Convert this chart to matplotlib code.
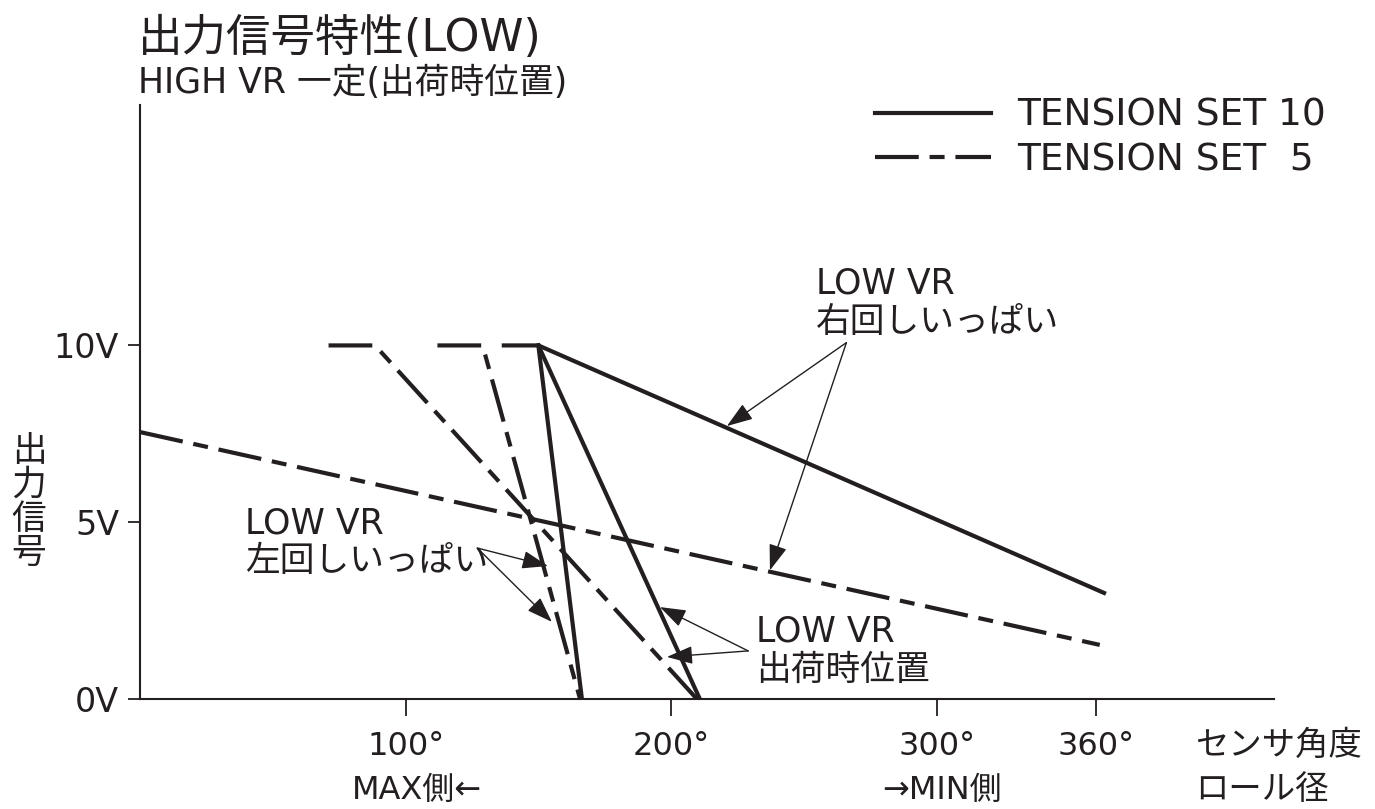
import numpy as np
import matplotlib
matplotlib.use("Agg")
import matplotlib.pyplot as plt

plt.rcParams["font.family"] = ["DejaVu Sans", "Noto Sans CJK JP"]

INK = "#231f20"

# angle ticks / voltage ticks
angle_ticks = [100, 200, 300, 360]
angle_labels = ["100°", "200°", "300°", "360°"]
volt_ticks = [0, 5, 10]
volt_labels = ["0V", "5V", "10V"]

# TENSION SET 10 (solid)
t10_right_x = [137, 150, 363]
t10_right_y = [10, 10, 3.0]
t10_left_x = [150, 166.4]
t10_left_y = [10, 0]
t10_ship_x = [150, 210.8]
t10_ship_y = [10, 0]

# TENSION SET 5 (dash-dot)
t5_right_x = [0, 361.4]
t5_right_y = [7.55, 1.53]
t5_ship_x = [71, 88.5, 209.7]
t5_ship_y = [10, 10, 0]
t5_left_x = [112, 129, 165.7]
t5_left_y = [10, 10, 0]

# arrows: start point, then tips
right_from = (266, 10.08)
right_tips = [(221, 7.72), (237.2, 3.64)]
left_from = (127, 4.27)
left_tips = [(153.6, 3.76), (155.1, 2.18)]
ship_from = (229, 1.36)
ship_tips = [(195.8, 2.60), (198.4, 1.19)]

W, H = 1375, 809
fig = plt.figure(figsize=(W / 100, H / 100), dpi=100)
ax = fig.add_axes([140 / W, 110 / H, 1134 / W, 594 / H])

dashdot = (0, (10.5, 2.6, 3.6, 2.6))
lw = 3.0
ax.plot(t10_right_x, t10_right_y, color=INK, lw=lw, solid_joinstyle="miter",
        label="TENSION SET 10")
ax.plot(t10_left_x, t10_left_y, color=INK, lw=lw)
ax.plot(t10_ship_x, t10_ship_y, color=INK, lw=lw)
ax.plot(t5_right_x, t5_right_y, color=INK, lw=lw, linestyle=dashdot,
        label="TENSION SET  5")
ax.plot(t5_ship_x, t5_ship_y, color=INK, lw=lw, linestyle=dashdot)
ax.plot(t5_left_x, t5_left_y, color=INK, lw=lw, linestyle=dashdot)

arrow = dict(arrowstyle="-|>,head_length=0.8,head_width=0.28", mutation_scale=20,
             lw=1.0, color=INK, shrinkA=0, shrinkB=0)
for start, tips in [(right_from, right_tips), (left_from, left_tips), (ship_from, ship_tips)]:
    for tip in tips:
        ax.annotate("", xy=tip, xytext=start, arrowprops=arrow)

ax.set_xlim(0, 427)
ax.set_ylim(0, 16.8)
for s in ["top", "right"]:
    ax.spines[s].set_visible(False)
for s in ["left", "bottom"]:
    ax.spines[s].set_linewidth(1.5)
    ax.spines[s].set_color(INK)

ax.set_xticks(angle_ticks)
ax.set_xticklabels(angle_labels)
ax.set_yticks(volt_ticks)
ax.set_yticklabels(volt_labels)
ax.tick_params(axis="x", direction="out", length=12, width=1.3, pad=11,
               labelsize=23, colors=INK)
ax.tick_params(axis="y", direction="out", length=9, width=1.3, pad=6,
               labelsize=24, colors=INK)

leg = ax.legend(loc="upper left", bbox_to_anchor=(875 / W, 1 - 98 / H),
                bbox_transform=fig.transFigure, frameon=False, fontsize=27,
                handlelength=3.1, handletextpad=0.7, labelspacing=0.22,
                borderpad=0, borderaxespad=0)
for t in leg.get_texts():
    t.set_color(INK)


def ftext(x, y, s, size, **kw):
    fig.text(x / W, 1 - y / H, s, fontsize=size, color=INK, va="center", **kw)


# titles
ftext(138, 38, "出力信号特性(LOW)", 32)
ftext(138, 83, "HIGH VR 一定(出荷時位置)", 25)

# annotation labels
ftext(816, 284, "LOW VR", 25)
ftext(816, 322, "右回しいっぱい", 25)
ftext(245, 524, "LOW VR", 25)
ftext(245, 561, "左回しいっぱい", 25)
ftext(756, 632, "LOW VR", 25)
ftext(756, 670, "出荷時位置", 25)

# axis labels
ftext(29, 502, "出\n力\n信\n号", 25, ha="center", linespacing=1.0)
ftext(1195, 745, "センサ角度", 24)
ftext(1195, 790, "ロール径", 24)
ftext(352, 790, "MAX側←", 23)
ftext(882, 790, "→MIN側", 23)

fig.savefig("out.png", dpi=100)
